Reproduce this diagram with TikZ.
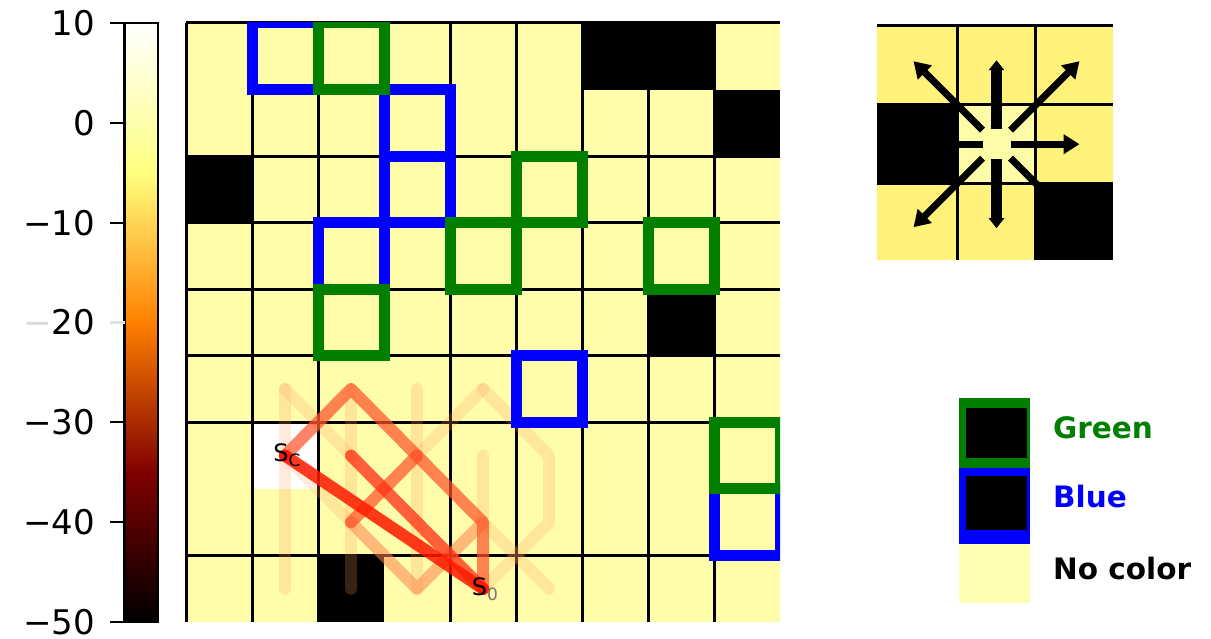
\documentclass[tikz,border=0pt]{standalone}
\usepackage{fontspec}
\setmainfont{DejaVu Sans}
\usetikzlibrary{arrows.meta}

\definecolor{cellyel}{HTML}{FFFCAA}
\definecolor{insyel}{HTML}{FFF27A}
\definecolor{inscen}{HTML}{FFFCA8}
\definecolor{nocol}{HTML}{FFFDB0}
\definecolor{mgreen}{HTML}{007F00}
\definecolor{mblue}{HTML}{0000FF}
\definecolor{afB}{rgb}{0.5,0,0}
\definecolor{afC}{rgb}{1,0.5,0}
\definecolor{afD}{rgb}{1,1,0.5}
\definecolor{pbright}{RGB}{255,25,0}
\definecolor{pstrong}{RGB}{255,45,20}
\definecolor{pmed}{RGB}{255,80,40}
\definecolor{ppale}{RGB}{255,130,80}
\definecolor{pfaint}{RGB}{255,160,95}

\begin{document}
\begin{tikzpicture}[x=1pt,y=-1pt,
  gridln/.style={line width=3pt, black},
  bluebox/.style={draw=mblue, line width=11pt},
  greenbox/.style={draw=mgreen, line width=11pt},
  pathbase/.style={line width=12pt, line cap=round, line join=round},
  fpath/.style={pathbase, draw=pfaint, opacity=0.22},
  ppath/.style={pathbase, draw=ppale, opacity=0.55},
  mpath/.style={pathbase, draw=pmed, opacity=0.7},
  spath/.style={pathbase, draw=pstrong, opacity=0.75},
  bpath/.style={pathbase, draw=pbright, opacity=0.85},
  ticklab/.style={anchor=east, font=\fontsize{34}{38}\selectfont, inner sep=0pt},
  leglab/.style={anchor=west, font=\fontsize{29.5}{33}\selectfont\bfseries, inner sep=0pt},
  statelab/.style={font=\fontsize{24}{24}\selectfont, inner sep=0pt},
  insarrow/.style={line width=7pt, black, -{Triangle[length=16pt,width=19pt]}},
  insarrowv/.style={line width=11pt, black, -{Triangle[length=10pt,width=15pt]}}
]
\useasboundingbox (0,0) rectangle (1211,639);
\fill[white] (0,0) rectangle (1211,639);

% ---------------- colorbar ----------------
\shade[top color=white, bottom color=afD] (125,23) rectangle (158,173.5);
\shade[top color=afD, bottom color=afC] (125,172.75) rectangle (158,323);
\shade[top color=afC, bottom color=afB] (125,322.5) rectangle (158,473);
\shade[top color=afB, bottom color=black] (125,472.25) rectangle (158,622);
\draw[line width=2.5pt] (124.5,23) rectangle (158,622);
\foreach \y in {23,122.8,222.7,422.3,522.2,622}
  \draw[line width=2pt] (110,\y) -- (124.5,\y);
\draw[line width=2pt, black!12] (110,322.5) -- (124.5,322.5);
\node[ticklab] (t10) at (95,23) {10};
\node[ticklab] (t0) at (95,122.8) {0};
\node[ticklab] (tm10) at (95,222.7) {−10};
\node[ticklab] (tm20) at (95,322.5) {\textcolor{black!15}{−}20};
\node[ticklab] (tm30) at (95,422.3) {−30};
\node[ticklab] (tm40) at (95,522.2) {−40};
\node[ticklab] (tm50) at (95,622) {−50};

% ---------------- main grid ----------------
\fill[cellyel] (186,23) rectangle (780,622);
\foreach \c/\r in {6/0,7/0,8/1,0/2,7/4,2/8}
  \fill[black] ({186+66*\c},{23+66.56*\r}) rectangle ({252+66*\c},{89.56+66.56*\r});
\fill[white] ({186+66*1},{23+66.56*6}) rectangle ({252+66*1},{89.56+66.56*6});
\foreach \k in {0,1,2,4,5,6,7,8}
  \draw[gridln] ({186+66*\k},23) -- ({186+66*\k},622);
\foreach \k in {0,2,3,4,5,6,8}
  \draw[gridln] (186,{23+66.56*\k}) -- (780,{23+66.56*\k});

% state centres
\foreach \c in {1,...,5}
  \foreach \r in {5,...,8}
    \coordinate (p\c\r) at ({219+66*\c},{56.28+66.56*\r});

% ---------------- trajectories ----------------
\begin{scope}
\clip (186,23) rectangle (780,622);
\draw[fpath] (p15) -- (p18);
\draw[fpath] (p15) -- (p26);
\draw[fpath] (p25) -- (p28);
\draw[fpath] (p35) -- (p38);
\draw[fpath] (p45) -- (p36);
\draw[fpath] (p45) -- (p56) -- (p57) -- (p48);
\draw[fpath] (p46) -- (p47) -- (p58);
\draw[fpath] (p16) -- (p27);
\draw[ppath] (p27) -- (p38) -- (p47);
\draw[mpath] (p36) -- (p27);
\draw[mpath] (p16) -- (p25) -- (p36) -- (p47) -- (p48);
\draw[spath] (p26) -- (p48);
\draw[bpath] (p16) -- (p48);
\fill[pbright] (p16) circle (6);
\fill[pbright] (p48) circle (6);
\end{scope}
\node[statelab] (sc) at ([xshift=2pt]p16) {S\raisebox{-5pt}{\fontsize{17}{17}\selectfont C}};
\node[statelab] (s0) at ([xshift=2pt]p48) {S\raisebox{-5pt}{\fontsize{17}{17}\selectfont\textcolor{black!55}{0}}};

% ---------------- boxes ----------------
\begin{scope}
\clip (186,23) rectangle (780,622);
\foreach \c/\r in {1/0,3/1,3/2,2/3,5/5,8/7}
  \draw[bluebox] ({186+66*\c},{23+66.56*\r}) rectangle ({252+66*\c},{89.56+66.56*\r});
\foreach \c/\r in {2/0,5/2,4/3,7/3,2/4,8/6}
  \draw[greenbox] ({186+66*\c},{23+66.56*\r}) rectangle ({252+66*\c},{89.56+66.56*\r});
\end{scope}

% ---------------- inset (actions) ----------------
\fill[insyel] (877,26) rectangle (1113,260);
\fill[black] (877,105) rectangle (957.3,183.3);
\fill[inscen] (957.3,105) rectangle (1035.7,183.3);
\fill[black] (1035.7,183.3) rectangle (1113,260);
\draw[gridln] (877,26) -- (1113,26);
\draw[gridln] (957.3,26) -- (957.3,260);
\draw[gridln] (1035.7,26) -- (1035.7,260);
\draw[gridln] (877,105) -- (1113,105);
\draw[gridln] (877,183.3) -- (1113,183.3);
\coordinate (ac) at (996.5,144.2);
\foreach \ux/\uy in {1/0,-1/0,1/1,1/-1,-1/1,-1/-1}
  \draw[insarrow] ({996.5+14*\ux},{144.2+14*\uy}) -- ({996.5+83*\ux},{144.2+83*\uy});
\foreach \uy in {1,-1}
  \draw[insarrowv] (996.5,{144.2+15*\uy}) -- (996.5,{144.2+84*\uy});

% ---------------- legend ----------------
\fill[mgreen] (959,398) rectangle (1030,468);
\fill[black] (966,408) rectangle (1027,458);
\fill[mblue] (959,468) rectangle (1030,544);
\fill[black] (966,476) rectangle (1027,530);
\fill[nocol] (959,544) rectangle (1030,603);
\node[leglab, text=mgreen] (lg) at (1053,428) {Green};
\node[leglab, text=mblue] (lb) at (1053,497) {Blue};
\node[leglab, text=black] (ln) at (1053,568) {No color};
\end{tikzpicture}
\end{document}
